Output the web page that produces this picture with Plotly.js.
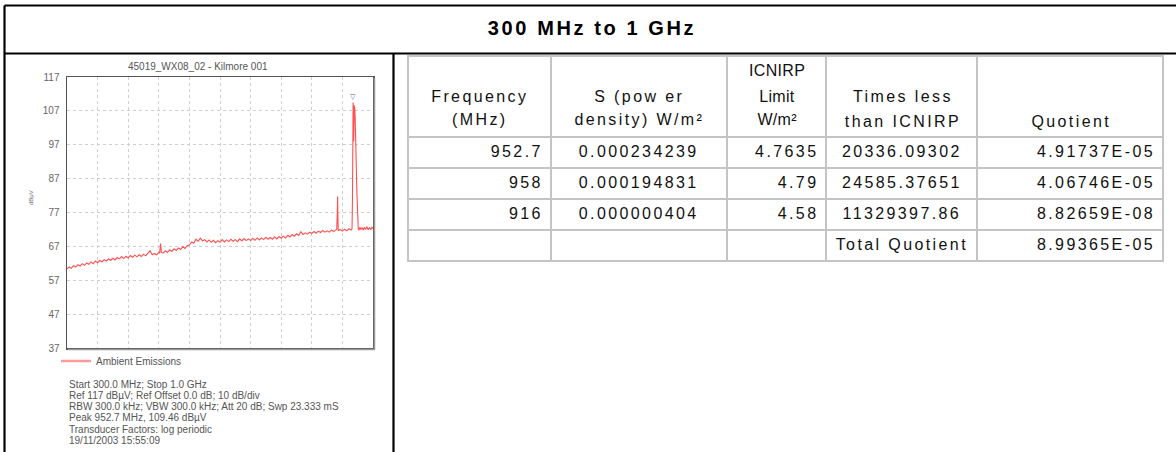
<!DOCTYPE html>
<html>
<head>
<meta charset="utf-8">
<script src="https://cdn.plot.ly/plotly-3.0.1.min.js"></script>
<style>
  html, body { margin: 0; padding: 0; background: #fff; }
  #chart { width: 1176px; height: 452px; }
  .gtitle { letter-spacing: 2.6px; }
  .cell-text { letter-spacing: 2.4px; }
</style>
</head>
<body>
<div id="chart"></div>
<script>
// ---- Spectrum trace ----
const frequencyMHz = [
  300,305,310,315,320,325,330,335,340,345,350,355,360,365,370,375,380,385,390,395,
  400,405,410,415,420,425,430,435,440,445,450,455,460,465,470,475,480,485,490,495,
  500,505,510,512,514,516,520,525,530,535,540,545,550,555,560,565,570,575,580,585,
  590,595,600,605,610,615,620,625,630,635,640,645,650,655,660,665,670,675,680,685,
  690,695,700,705,710,715,720,725,730,735,740,745,750,755,760,765,770,775,780,785,
  790,795,800,805,810,815,820,825,830,835,840,845,850,855,860,865,870,875,880,885,
  890,895,900,905,910,914,917,918.3,919,919.7,920.5,925,930,935,940,945,950,952,
  953,953.8,954.5,955.2,955.8,956.5,957.3,958.2,959.2,960.2,961.2,962.2,963.2,964.2,965.2,966.2,
  968,970,972,975,978,980,983,986,989,992,995,998,1000
];
const levelDbuV = [
  60.4,60.9,60.5,61.3,60.9,61.6,61.2,61.9,61.4,62.1,61.7,62.4,61.9,62.7,62.2,62.9,62.4,63.1,62.7,63.3,
  62.9,63.5,63.0,63.7,63.3,64.0,63.4,64.1,63.6,64.3,63.8,64.4,63.9,64.5,64.0,64.7,64.2,64.9,65.7,64.5,
  64.9,64.5,65.2,65.0,67.8,65.2,65.0,65.7,65.2,66.0,65.5,66.3,65.8,66.5,66.1,66.9,66.4,67.2,67.4,68.3,
  67.9,69.1,68.5,69.4,68.6,69.0,68.3,68.9,68.2,68.8,68.1,68.7,68.2,69.0,68.3,68.9,68.4,69.1,68.5,69.0,
  68.4,69.2,68.6,69.3,68.7,69.2,68.7,69.4,68.8,69.5,68.9,69.5,69.0,69.7,69.1,69.6,69.1,69.8,69.2,69.9,
  69.4,70.0,69.5,70.3,69.8,70.5,70.0,70.7,70.2,71.3,70.5,71.0,70.6,71.2,70.8,71.4,70.9,71.5,71.1,71.7,
  71.2,71.6,71.2,71.8,71.4,71.8,72.0,77.0,81.7,76.0,71.6,72.0,71.5,72.1,71.6,72.2,71.8,72.2,
  80.0,98.0,109.46,106.0,98.0,103.5,108.6,107.8,105.0,97.0,89.0,84.0,82.6,79.5,74.5,72.4,
  71.7,72.7,72.0,72.5,71.8,72.6,72.0,72.8,71.9,72.5,72.0,72.7,72.2
];
const peakFrequencyMHz = [954.5];
const peakLevelDbuV = [109.46];
const traceName = "Ambient Emissions";
const yTickValues = [37, 47, 57, 67, 77, 87, 97, 107, 117];
const chartTitle = "45019_WX08_02 - Kilmore 001";
const infoLines = [
  "Start 300.0 MHz; Stop 1.0 GHz",
  "Ref 117 dB\u00b5V; Ref Offset 0.0 dB; 10 dB/div",
  "RBW 300.0 kHz; VBW 300.0 kHz; Att 20 dB; Swp 23.333 mS",
  "Peak 952.7 MHz, 109.46 dB\u00b5V",
  "Transducer Factors: log periodic",
  "19/11/2003 15:55:09"
];

// ---- Table ----
const tableHeaderLines = [
  ["Frequency", "(MHz)"],
  ["S (pow er", "density) W/m\u00b2"],
  ["ICNIRP", "Limit", "W/m\u00b2"],
  ["Times less", "than ICNIRP"],
  ["Quotient"]
];
const tableFrequency = ["952.7", "958", "916", ""];
const tablePowerDensity = ["0.000234239", "0.000194831", "0.000000404", ""];
const tableLimit = ["4.7635", "4.79", "4.58", ""];
const tableTimesLess = ["20336.09302", "24585.37651", "11329397.86", "Total\u00a0Quotient"];
const tableQuotient = ["4.91737E-05", "4.06746E-05", "8.82659E-08", "8.99365E-05"];
const pageTitle = "300 MHz to 1 GHz";

// ---- Layout helpers (pixel -> paper) ----
const W = 1176, H = 452;
const px = v => v / W;
const py = v => 1 - v / H;
const ARIAL = "Liberation Sans, Arial, sans-serif";

// table geometry (pixels)
const colEdges = [408, 551, 727, 827, 978, 1164];
const colWidths = colEdges.slice(1).map((e, i) => e - colEdges[i]);
const headerLineY = [
  [97, 119],
  [97, 119],
  [70, 97, 119],
  [97, 121],
  [122]
];
const headerSpacing = [2.4, 2.4, 0.3, 2.4, 2.4];

const spectrum = {
  type: "scatter", mode: "lines",
  x: frequencyMHz, y: levelDbuV,
  line: { color: "#ff5050", width: 1.1 },
  name: traceName, showlegend: false,
  xaxis: "x", yaxis: "y", hoverinfo: "skip"
};
const legendEntry = {
  type: "scatter", mode: "lines",
  x: [null], y: [null],
  line: { color: "#ff9a9a", width: 2.5 },
  name: traceName, showlegend: true,
  xaxis: "x", yaxis: "y"
};
const table = {
  type: "table",
  domain: { x: [px(colEdges[0]), px(colEdges[5])], y: [py(263), py(56)] },
  columnwidth: colWidths,
  header: {
    values: tableHeaderLines.map(() => ""),
    align: "center",
    height: 81,
    fill: { color: "#ffffff" },
    line: { color: "#c4c4c4", width: 2 },
    font: { family: ARIAL, size: 16, color: "#111" }
  },
  cells: {
    values: [tableFrequency, tablePowerDensity, tableLimit, tableTimesLess, tableQuotient],
    align: ["right", "center", "right", "center", "right"],
    height: 31,
    fill: { color: "#ffffff" },
    line: { color: "#c4c4c4", width: 2 },
    font: { family: ARIAL, size: 16, color: "#111" }
  }
};

const blk = { color: "#000", width: 2.2 };
const shapes = [
  { type: "line", xref: "paper", yref: "paper", x0: px(4.5), x1: px(1176), y0: py(5.5), y1: py(5.5), line: blk },
  { type: "line", xref: "paper", yref: "paper", x0: px(4.5), x1: px(4.5), y0: py(5.5), y1: py(452), line: blk },
  { type: "line", xref: "paper", yref: "paper", x0: px(4.5), x1: px(1176), y0: py(53.5), y1: py(53.5), line: blk },
  { type: "line", xref: "paper", yref: "paper", x0: px(393.5), x1: px(393.5), y0: py(53.5), y1: py(452), line: blk },
  // soft shadow on the plot frame (right and bottom)
  { type: "line", xref: "paper", yref: "paper", x0: px(374.5), x1: px(374.5), y0: py(78), y1: py(349.5), line: { color: "#9a9a9a", width: 1.5 } },
  { type: "line", xref: "paper", yref: "paper", x0: px(68), x1: px(374.5), y0: py(349.5), y1: py(349.5), line: { color: "#9a9a9a", width: 1.5 } }
];

// header text annotations first (so they can be styled by index)
const annotations = [];
const spacingRules = [];
tableHeaderLines.forEach((lines, c) => {
  const cx = (colEdges[c] + colEdges[c + 1]) / 2;
  lines.forEach((t, k) => {
    spacingRules.push(`g.annotation[data-index="${annotations.length}"] text { letter-spacing: ${headerSpacing[c]}px; }`);
    annotations.push({ xref: "paper", yref: "paper", x: px(cx), y: py(headerLineY[c][k]),
      xanchor: "center", yanchor: "middle", text: t, showarrow: false,
      font: { family: ARIAL, size: 16, color: "#111" } });
  });
});
const st = document.createElement("style");
st.textContent = spacingRules.join("\n");
document.head.appendChild(st);

annotations.push(
  { xref: "paper", yref: "paper", x: px(198), y: py(66), xanchor: "center", yanchor: "middle",
    text: chartTitle, showarrow: false, font: { family: ARIAL, size: 10, color: "#555" } },
  { xref: "paper", yref: "paper", x: px(31), y: py(198), xanchor: "center", yanchor: "middle",
    text: "dB\u00b5V", textangle: -90, showarrow: false, font: { family: ARIAL, size: 6, color: "#666" } },
  { xref: "x", yref: "y", x: peakFrequencyMHz[0], y: peakLevelDbuV[0], xanchor: "center", yanchor: "bottom",
    text: "\u25bd", showarrow: false, font: { family: "DejaVu Sans", size: 7, color: "#666" } }
);
const lineY = [384, 395.3, 406.6, 417.9, 429.2, 440.5];
infoLines.forEach((t, i) => {
  annotations.push({ xref: "paper", yref: "paper", x: px(67), y: py(lineY[i]), xanchor: "left", yanchor: "middle",
    text: t, showarrow: false, font: { family: ARIAL, size: 10, color: "#555" } });
});

const layout = {
  width: W, height: H,
  margin: { l: 0, r: 0, t: 0, b: 0 },
  paper_bgcolor: "#fff", plot_bgcolor: "#fff",
  title: { text: pageTitle, x: px(592), xanchor: "center", y: py(28), yanchor: "middle",
           font: { family: ARIAL, size: 20, weight: 700, color: "#000" } },
  xaxis: {
    domain: [px(67), px(373)], range: [300, 1000],
    tick0: 300, dtick: 70, showticklabels: false, ticks: "",
    showgrid: true, gridcolor: "#cfcfcf", griddash: "dot", gridwidth: 1,
    zeroline: false, showline: true, mirror: true, linecolor: "#555", linewidth: 1.5,
    fixedrange: true
  },
  yaxis: {
    domain: [py(348), py(77)], range: [37, 117],
    tickmode: "array", tickvals: yTickValues, ticktext: yTickValues.map(String),
    ticks: "", ticklabelstandoff: 4,
    tickfont: { family: ARIAL, size: 10, color: "#666" },
    showgrid: true, gridcolor: "#cfcfcf", griddash: "dot", gridwidth: 1,
    zeroline: false, showline: true, mirror: true, linecolor: "#555", linewidth: 1.5,
    fixedrange: true
  },
  showlegend: true,
  legend: { x: px(56), y: py(361), xanchor: "left", yanchor: "middle",
            font: { family: ARIAL, size: 10, color: "#555" }, bgcolor: "rgba(0,0,0,0)",
            itemwidth: 30, tracegroupgap: 0 },
  shapes: shapes,
  annotations: annotations
};

Plotly.newPlot("chart", [spectrum, legendEntry, table], layout, { displayModeBar: false, staticPlot: true });
</script>
</body>
</html>
